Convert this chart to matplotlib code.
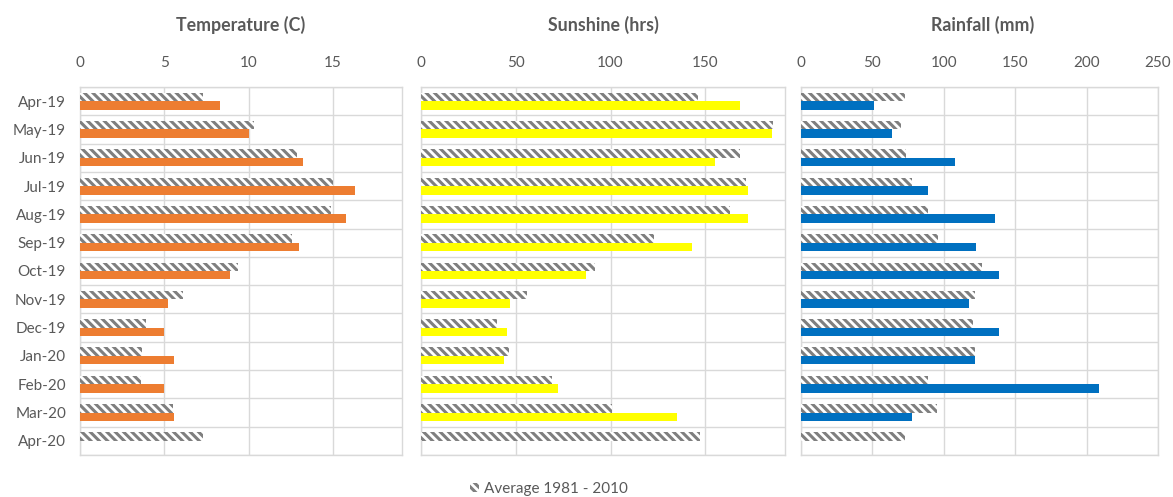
import matplotlib
matplotlib.use("Agg")
import matplotlib.pyplot as plt
import numpy as np
from matplotlib.patches import Patch

plt.rcParams['font.family'] = ['Lato', 'DejaVu Sans']
plt.rcParams['hatch.color'] = '#7f7f7f'
plt.rcParams['hatch.linewidth'] = 2.2

months = ["Apr-19", "May-19", "Jun-19", "Jul-19", "Aug-19", "Sep-19", "Oct-19",
          "Nov-19", "Dec-19", "Jan-20", "Feb-20", "Mar-20", "Apr-20"]

temp_actual = [8.3, 10.0, 13.2, 16.3, 15.8, 13.0, 8.9, 5.2, 5.0, 5.6, 5.0, 5.6, np.nan]
temp_avg = [7.3, 10.3, 12.9, 15.0, 14.9, 12.6, 9.4, 6.1, 3.9, 3.7, 3.6, 5.5, 7.3]

sun_actual = [168, 185, 155, 172.5, 172.5, 143, 87, 47, 45.5, 44, 72, 135, np.nan]
sun_avg = [146, 185.5, 168, 171.5, 163, 123, 92, 56, 40, 46.5, 69, 101, 147]

rain_actual = [51, 63.5, 107.5, 89, 136, 122.5, 139, 117.5, 139, 121.5, 208.5, 78, np.nan]
rain_avg = [72.5, 70, 73.5, 77.5, 89, 96, 126.5, 121.5, 120.5, 121.5, 89, 95, 72.5]

titles = ["Temperature (C)", "Sunshine (hrs)", "Rainfall (mm)"]
colors = ["#ED7D31", "#FFFF00", "#0070C0"]
xticks = [[0, 5, 10, 15], [0, 50, 100, 150], [0, 50, 100, 150, 200, 250]]
xlims = [(0, 19.1), (0, 192), (0, 250)]
legend_label = "Average 1981 - 2010"

W, H = 1173, 497
fig = plt.figure(figsize=(W / 100, H / 100), dpi=100)

boxes = [(80, 402), (421, 785), (801, 1158)]
top_px, bot_px = 87, 455
title_x = [241, 603, 983]

data = [(temp_actual, temp_avg), (sun_actual, sun_avg), (rain_actual, rain_avg)]
text_col = "#595959"
grid_col = "#D9D9D9"

y = np.arange(len(months))
bh = 0.3
for i, ((l, r), (act, avg)) in enumerate(zip(boxes, data)):
    ax = fig.add_axes([l / W, 1 - bot_px / H, (r - l) / W, (bot_px - top_px) / H])
    ax.barh(y - bh / 2, avg, height=bh, color="white", hatch="\\\\\\\\", edgecolor="#7f7f7f",
            linewidth=0, zorder=3)
    ax.barh(y + bh / 2, act, height=bh, color=colors[i], linewidth=0, zorder=3)
    ax.set_xlim(*xlims[i])
    ax.set_ylim(len(months) - 0.5, -0.5)
    ax.set_xticks(xticks[i])
    ax.xaxis.tick_top()
    ax.tick_params(axis='x', length=0, pad=12, labelsize=11, labelcolor=text_col)
    for xv in xticks[i]:
        ax.axvline(xv, color=grid_col, lw=1, zorder=1)
    for b in np.arange(-0.5, len(months), 1.0):
        ax.axhline(b, color=grid_col, lw=1, zorder=1)
    if i == 0:
        ax.set_yticks(y)
        ax.set_yticklabels(months)
        ax.tick_params(axis='y', length=0, pad=10, labelsize=11, labelcolor=text_col)
    else:
        ax.set_yticks([])
    for s in ax.spines.values():
        s.set_color(grid_col)
        s.set_linewidth(1)
    fig.text(title_x[i] / W, 1 - 25 / H, titles[i], ha="center", va="center",
             fontsize=12.8, fontweight="bold", color=text_col)

handle = Patch(facecolor="white", hatch="\\\\\\\\", edgecolor="#7f7f7f", linewidth=0)
fig.legend([handle], [legend_label], loc="center", bbox_to_anchor=(549 / W, 1 - 489 / H),
           frameon=False, fontsize=11, labelcolor=text_col, handlelength=0.6,
           handleheight=0.6, handletextpad=0.3)

fig.savefig("out.png", dpi=100)
